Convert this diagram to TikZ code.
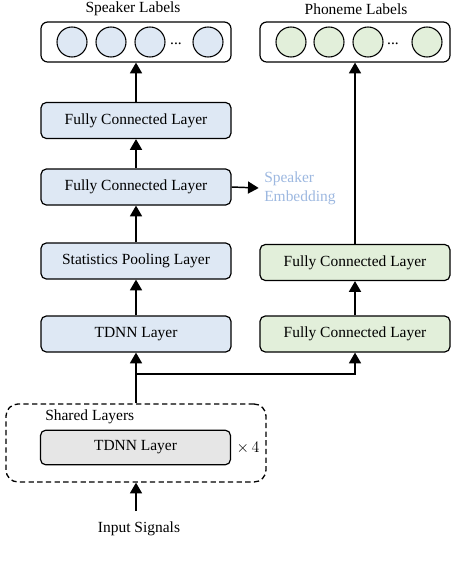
\documentclass[tikz,border=0pt]{standalone}
\usepackage{fontspec}
\setmainfont{Liberation Serif}
\usetikzlibrary{arrows.meta,positioning,shapes.geometric}
\definecolor{SoftBlue}{HTML}{DEE8F4}
\definecolor{SoftGreen}{HTML}{E2EFDA}
\definecolor{SoftGray}{HTML}{E6E6E6}
\definecolor{EmbBlue}{HTML}{9DB8E0}

\begin{document}
\begin{tikzpicture}[
  x=0.75pt,y=-0.75pt,
  spk/.style={rounded corners=4pt,draw=black,fill=SoftBlue,line width=0.9pt,minimum width=142.5pt,minimum height=27pt,font=\fontsize{11.6}{13.5}\selectfont},
  phn/.style={rounded corners=4pt,draw=black,fill=SoftGreen,line width=0.9pt,minimum width=142.5pt,minimum height=27pt,font=\fontsize{11.6}{13.5}\selectfont},
  shr/.style={rounded corners=4pt,draw=black,fill=SoftGray,line width=0.9pt,minimum width=142.5pt,minimum height=26pt,font=\fontsize{11.6}{13.5}\selectfont},
  outbox/.style={rounded corners=5pt,draw=black,fill=white,line width=0.9pt,minimum width=142.5pt,minimum height=30pt},
  unit/.style={circle,draw=black,line width=0.8pt,minimum size=22.5pt,inner sep=0pt},
  lbl/.style={font=\fontsize{11.6}{14}\selectfont},
  arrow/.style={-{Triangle[length=8pt,width=9pt]},line width=1.1pt,draw=black}
]
\useasboundingbox (0,0) rectangle (452,572);
% speaker branch
\node[outbox] (spkout) at (136,42) {};
\node[unit,fill=SoftBlue] (s1) at (72,42) {};
\node[unit,fill=SoftBlue] (s2) at (111,42) {};
\node[unit,fill=SoftBlue] (s3) at (150,42) {};
\node[lbl] (sdots) at (176,44) {...};
\node[unit,fill=SoftBlue] (s4) at (208,42) {};
\node[lbl] (spklbl) at (133,9) {Speaker Labels};
\node[spk] (fc1) at (136,120.5) {Fully Connected Layer};
\node[spk] (fc2) at (136,187) {Fully Connected Layer};
\node[spk] (pool) at (136,261) {Statistics Pooling Layer};
\node[spk] (tdnn) at (136,334) {TDNN Layer};
\node[lbl,text=EmbBlue,align=left,anchor=west,inner sep=0pt] (emb) at (264,188) {Speaker\\Embedding};
% phoneme branch
\node[outbox] (phnout) at (355,42) {};
\node[unit,fill=SoftGreen] (p1) at (291,42) {};
\node[unit,fill=SoftGreen] (p2) at (329,42) {};
\node[unit,fill=SoftGreen] (p3) at (368,42) {};
\node[lbl] (pdots) at (393,44) {...};
\node[unit,fill=SoftGreen] (p4) at (427,42) {};
\node[lbl] (phnlbl) at (356,9) {Phoneme Labels};
\node[phn] (pfc2) at (355,262.5) {Fully Connected Layer};
\node[phn] (pfc1) at (355,334) {Fully Connected Layer};
% shared part
\node[draw=black,dashed,dash pattern=on 4pt off 2.5pt,line width=1pt,rounded corners=9pt,minimum width=195pt,minimum height=58.5pt] (shared) at (136,443) {};
\node[lbl,anchor=west,inner sep=0pt] (sharedlbl) at (45,417) {Shared Layers};
\node[shr] (base) at (135.5,447.5) {TDNN Layer};
\node[lbl] (times) at (248,448) {$\times\,4$};
\node[lbl] (input) at (139,529) {Input Signals};
\coordinate (in) at (136,511);
\coordinate (split) at (136,374);
\draw[arrow] (in) -- (shared.south);
\draw[arrow] (shared.north) -- (tdnn.south);
\draw[arrow] (split) -| (pfc1.south);
\draw[arrow] (tdnn) -- (pool);
\draw[arrow] (pool) -- (fc2);
\draw[arrow] (fc2) -- (fc1);
\draw[arrow] (fc1) -- (spkout);
\draw[arrow] (fc2.east) -- ([xshift=-4pt]emb.west);
\draw[arrow] (pfc1) -- (pfc2);
\draw[arrow] (pfc2) -- (phnout);
\end{tikzpicture}
\end{document}
